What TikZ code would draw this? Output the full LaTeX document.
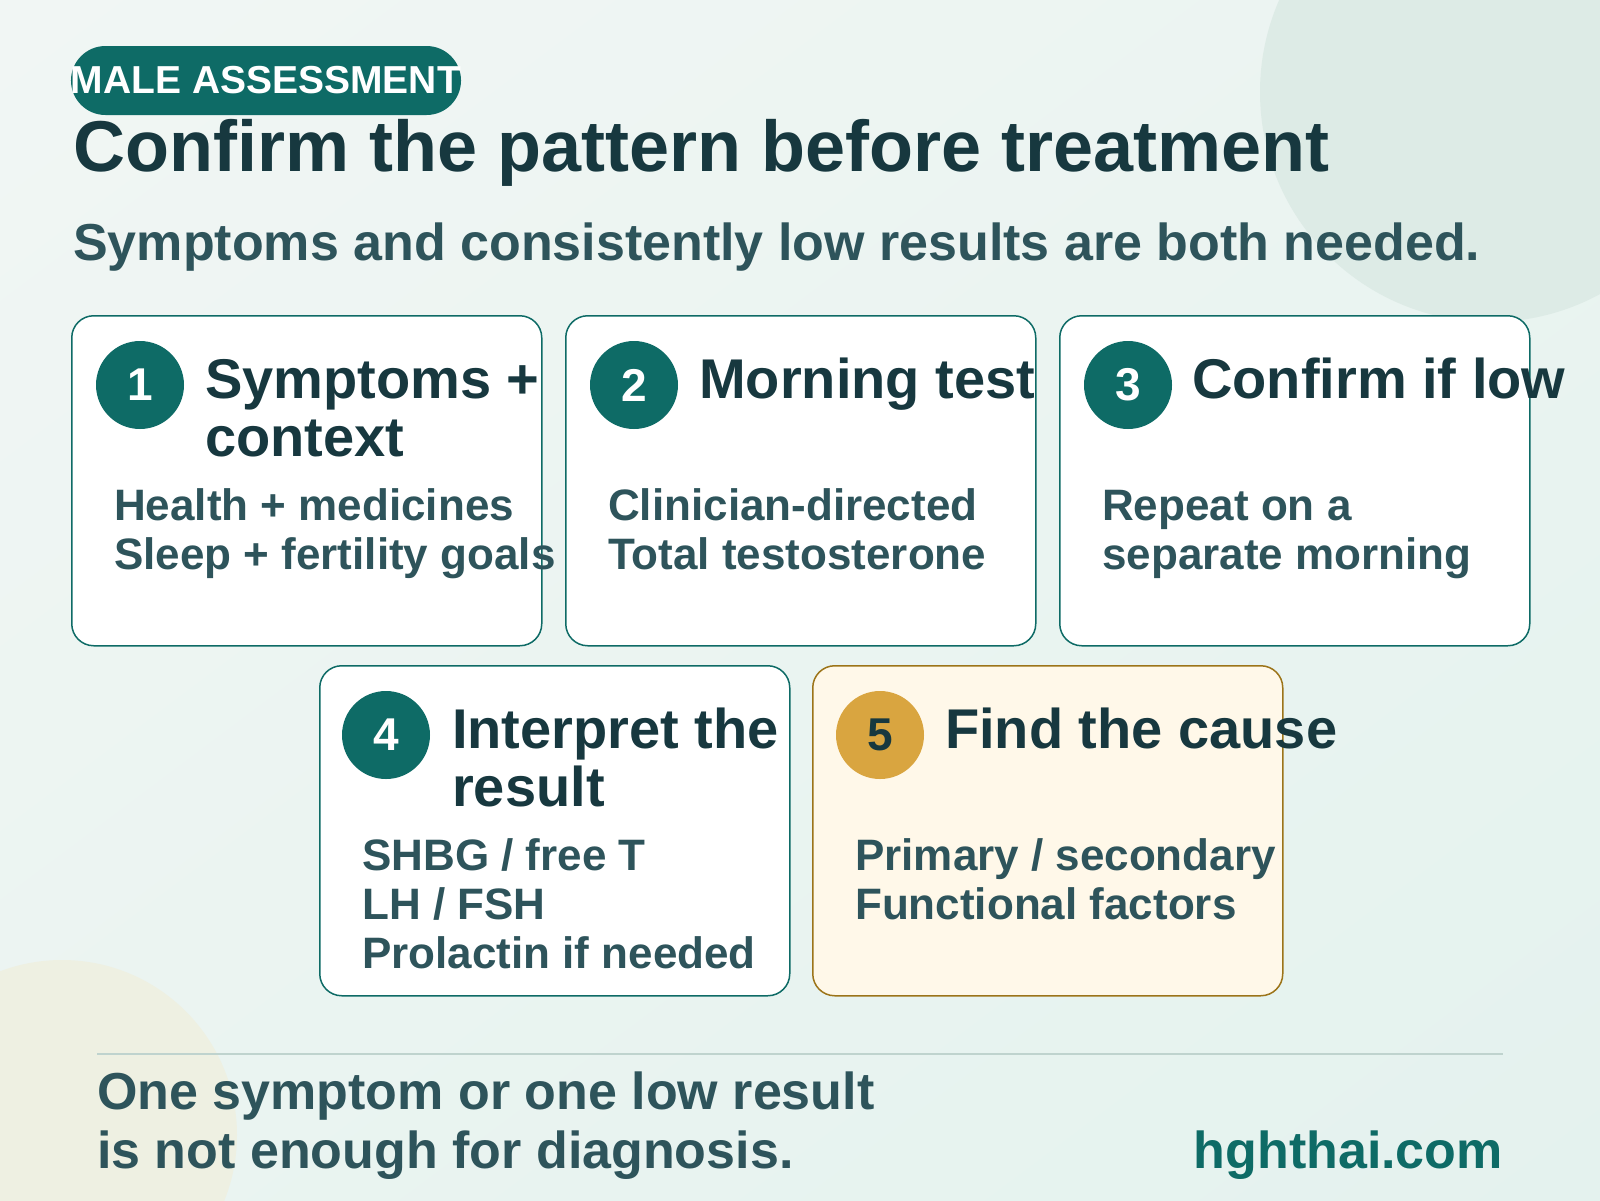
\documentclass[tikz,border=0pt]{standalone}
\usepackage{fontspec}
\setmainfont{Liberation Sans}
\usetikzlibrary{shadings}
\definecolor{mteal}{HTML}{0E6B66}
\definecolor{ink}{HTML}{17383F}
\definecolor{slate}{HTML}{2E545B}
\definecolor{gold}{HTML}{D9A540}
\definecolor{goldline}{HTML}{9C7419}
\definecolor{cream}{HTML}{FFF8E9}
\definecolor{bgA}{HTML}{F1F6F4}
\definecolor{bgB}{HTML}{E4F2EE}
\definecolor{circA}{HTML}{DDEBE6}
\definecolor{circB}{HTML}{EEF0E2}
\definecolor{rulec}{HTML}{BFD3CE}
\tikzset{
  card/.style={draw=mteal, line width=1.5pt, fill=white, rounded corners=22pt, minimum width=470pt, minimum height=330pt, anchor=north west, inner sep=0pt},
  goldcard/.style={card, draw=goldline, fill=cream},
  numcirc/.style={circle, fill=mteal, minimum size=88pt, inner sep=0pt, text=white, font=\bfseries\fontsize{46}{46}\selectfont},
  goldcirc/.style={numcirc, fill=gold, text=ink},
  ctitle/.style={anchor=base west, inner sep=0pt, text=ink, font=\bfseries\fontsize{56}{58}\selectfont},
  cbody/.style={anchor=base west, inner sep=0pt, text=slate, font=\bfseries\fontsize{44}{48}\selectfont},
  foot/.style={anchor=base west, inner sep=0pt, text=slate, font=\bfseries\fontsize{52}{58}\selectfont},
}
\begin{document}
\begin{tikzpicture}[x=1pt,y=-1pt]
\useasboundingbox (0,0) rectangle (1600,1200);
\begin{scope}
\clip (0,0) rectangle (1600,1200);
\shade[upper left=bgA, lower right=bgB, upper right=bgA!50!bgB, lower left=bgA!50!bgB] (0,0) rectangle (1600,1200);
\fill[circA] (1490,92) circle (230);
\fill[circB] (62,1135) circle (175);
\end{scope}
% tag pill
\node[fill=mteal, rounded corners=34.5pt, minimum width=390pt, minimum height=69pt, inner sep=0pt, text=white, font=\bfseries\fontsize{39}{39}\selectfont] (tag) at (266,80.5) {MALE ASSESSMENT};
\node[anchor=base west, inner sep=0pt, text=ink, font=\bfseries\fontsize{72}{72}\selectfont] (title) at (73,171) {Confirm the pattern before treatment};
\node[anchor=base west, inner sep=0pt, text=slate, font=\bfseries\fontsize{52}{52}\selectfont] (sub) at (73,260) {Symptoms and consistently low results are both needed.};
% row 1
\node[card] (c1) at (71,315) {};
\node[card] (c2) at (565,315) {};
\node[card] (c3) at (1059,315) {};
\node[numcirc] (n1) at (140,385) {1};
\node[numcirc] (n2) at (634,385) {2};
\node[numcirc] (n3) at (1128,385) {3};
\node[ctitle] (t1a) at (205,398) {Symptoms +};
\node[ctitle] (t1b) at (205,456) {context};
\node[ctitle] (t2a) at (699,398) {Morning test};
\node[ctitle] (t3a) at (1192,398) {Confirm if low};
\node[cbody] (b1a) at (114,520) {Health + medicines};
\node[cbody] (b1b) at (114,569) {Sleep + fertility goals};
\node[cbody] (b2a) at (608,520) {Clinician-directed};
\node[cbody] (b2b) at (608,569) {Total testosterone};
\node[cbody] (b3a) at (1102,520) {Repeat on a};
\node[cbody] (b3b) at (1102,569) {separate morning};
% row 2
\node[card] (c4) at (319,665) {};
\node[goldcard] (c5) at (812,665) {};
\node[numcirc] (n4) at (386,735) {4};
\node[goldcirc] (n5) at (880,735) {5};
\node[ctitle] (t4a) at (452,748) {Interpret the};
\node[ctitle] (t4b) at (452,806) {result};
\node[ctitle] (t5a) at (945,748) {Find the cause};
\node[cbody] (b4a) at (362,870) {SHBG / free T};
\node[cbody] (b4b) at (362,919) {LH / FSH};
\node[cbody] (b4c) at (362,968) {Prolactin if needed};
\node[cbody] (b5a) at (855,870) {Primary / secondary};
\node[cbody] (b5b) at (855,919) {Functional factors};
% footer
\coordinate (rl) at (97,1054);
\coordinate (rr) at (1503,1054);
\draw[rulec, line width=2pt] (rl) -- (rr);
\node[foot] (f1) at (97,1109) {One symptom or one low result};
\node[foot] (f2) at (97,1168) {is not enough for diagnosis.};
\node[anchor=base east, inner sep=0pt, text=mteal, font=\bfseries\fontsize{52}{52}\selectfont] (site) at (1503,1168) {hghthai.com};
\end{tikzpicture}
\end{document}
